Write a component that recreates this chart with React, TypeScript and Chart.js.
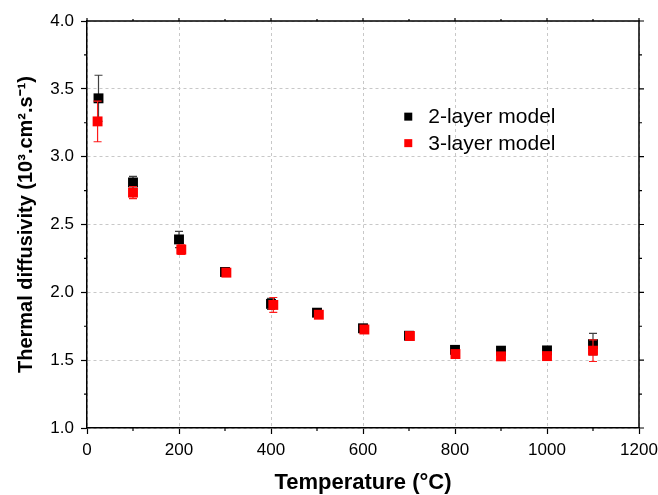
import { useEffect, useRef } from 'react';
import { Chart, registerables } from 'chart.js';

Chart.register(...registerables);

const FONT = "'Liberation Sans', Arial, Helvetica, sans-serif";

// Temperatures (°C)
const twoLayerTemps = [25, 100, 200, 300, 400, 500, 600, 700, 800, 900, 1000, 1100];
const threeLayerTemps = [23, 100, 205, 303, 405, 504, 603, 702, 801, 900, 1000, 1100];

// Thermal diffusivity values and errors
const twoLayerValues = [3.43, 2.81, 2.39, 2.15, 1.915, 1.85, 1.735, 1.68, 1.576, 1.57, 1.572, 1.618];
const twoLayerErrors = [0.17, 0.045, 0.06, 0.015, 0.04, 0.02, 0.02, 0.015, 0.015, 0.01, 0.01, 0.08];
const threeLayerValues = [3.26, 2.735, 2.315, 2.145, 1.907, 1.835, 1.726, 1.678, 1.545, 1.528, 1.53, 1.57];
const threeLayerErrors = [0.15, 0.045, 0.035, 0.015, 0.055, 0.02, 0.02, 0.02, 0.02, 0.015, 0.015, 0.08];

const seriesLabels = ['2-layer model', '3-layer model'];
const xTitle = 'Temperature (°C)';
const yTitle = 'Thermal diffusivity (10³.cm².s⁻¹)';

const errorBarPlugin = {
  id: 'errorBars',
  beforeDatasetDraw(chart: any, args: any) {
    const ds: any = chart.data.datasets[args.index];
    const errs: number[] = ds.errors || [];
    const yScale = chart.scales.y;
    const ctx = chart.ctx;
    ctx.save();
    ctx.strokeStyle = ds.errorColor;
    ctx.lineWidth = 1.2;
    args.meta.data.forEach((pt: any, i: number) => {
      const v = ds.data[i].y;
      const e = errs[i] || 0;
      const x = pt.x;
      const yTop = yScale.getPixelForValue(v + e);
      const yBot = yScale.getPixelForValue(v - e);
      ctx.beginPath();
      ctx.moveTo(x, yTop);
      ctx.lineTo(x, yBot);
      ctx.moveTo(x - 4, yTop);
      ctx.lineTo(x + 4, yTop);
      ctx.moveTo(x - 4, yBot);
      ctx.lineTo(x + 4, yBot);
      ctx.stroke();
    });
    ctx.restore();
  },
};

const framePlugin = {
  id: 'frame',
  afterDatasetsDraw(chart: any) {
    const { ctx, chartArea: a, scales } = chart;
    const xs = scales.x;
    const ys = scales.y;
    ctx.save();
    ctx.strokeStyle = '#000';
    ctx.lineWidth = 1.5;
    ctx.beginPath();
    ctx.moveTo(a.left, a.top);
    ctx.lineTo(a.right, a.top);
    ctx.lineTo(a.right, a.bottom);
    ctx.stroke();
    ctx.lineWidth = 1.2;
    ctx.beginPath();
    for (let v = 0; v <= 1200; v += 100) {
      const px = xs.getPixelForValue(v);
      const major = v % 200 === 0;
      if (!major) {
        ctx.moveTo(px, a.bottom);
        ctx.lineTo(px, a.bottom + 3);
      }
      ctx.moveTo(px, a.top);
      ctx.lineTo(px, a.top - (major ? 3 : 2));
    }
    for (let v = 1; v <= 4.0001; v += 0.25) {
      const py = ys.getPixelForValue(v);
      const major = Math.abs(v * 2 - Math.round(v * 2)) < 1e-6;
      if (!major) {
        ctx.moveTo(a.left, py);
        ctx.lineTo(a.left - 3, py);
      }
      ctx.moveTo(a.right, py);
      ctx.lineTo(a.right + (major ? 5 : 3), py);
    }
    ctx.stroke();
    ctx.restore();
  },
  afterDraw(chart: any) {
    const { ctx, chartArea: a } = chart;
    const datasets = chart.data.datasets;
    const order = [1, 0];
    const cx = a.left + 0.582 * (a.right - a.left);
    let cy = a.top + 0.235 * (a.bottom - a.top);
    ctx.save();
    ctx.font = `21px ${FONT}`;
    ctx.textBaseline = 'middle';
    ctx.textAlign = 'left';
    order.forEach((idx) => {
      const ds = datasets[idx];
      ctx.fillStyle = ds.backgroundColor;
      ctx.fillRect(cx - 4, cy - 4, 8, 8);
      ctx.fillStyle = '#000';
      ctx.fillText(ds.label, cx + 20, cy + 1);
      cy += 26.5;
    });
    ctx.restore();
  },
};

export default function App() {
  const ref = useRef<HTMLCanvasElement>(null);
  useEffect(() => {
    const chart = new Chart(ref.current!, {
      type: 'scatter',
      data: {
        datasets: [
          {
            label: seriesLabels[1],
            data: threeLayerTemps.map((t, i) => ({ x: t, y: threeLayerValues[i] })),
            errors: threeLayerErrors,
            errorColor: '#ff1a1a',
            backgroundColor: '#ff0000',
            borderColor: '#ff0000',
            borderWidth: 0,
            pointStyle: 'rect',
            pointRadius: 7,
            pointHoverRadius: 7,
            order: 0,
          } as any,
          {
            label: seriesLabels[0],
            data: twoLayerTemps.map((t, i) => ({ x: t, y: twoLayerValues[i] })),
            errors: twoLayerErrors,
            errorColor: '#404040',
            backgroundColor: '#000000',
            borderColor: '#000000',
            borderWidth: 0,
            pointStyle: 'rect',
            pointRadius: 7,
            pointHoverRadius: 7,
            order: 1,
          } as any,
        ],
      },
      options: {
        responsive: false,
        animation: false,
        events: [],
        layout: { padding: { top: 21, right: 19, left: 0, bottom: 0 } },
        plugins: {
          legend: { display: false },
          tooltip: { enabled: false },
        },
        scales: {
          x: {
            type: 'linear',
            min: 0,
            max: 1200,
            ticks: {
              stepSize: 200,
              color: '#000',
              font: { family: FONT, size: 17 },
              padding: 6,
              maxRotation: 0,
              callback: (v: any) => String(v),
            },
            grid: {
              color: '#c8c8c8',
              lineWidth: 1,
              tickColor: '#000',
              tickLength: 6,
              tickWidth: 1.2,
            },
            border: { display: true, color: '#000', width: 1.5, dash: [3, 3] },
            title: {
              display: true,
              text: xTitle,
              color: '#000',
              font: { family: FONT, size: 22, weight: 'bold' },
              padding: { top: 0, bottom: -1 },
            },
            afterFit: (s: any) => {
              s.height = 67;
              s.paddingLeft = 0;
              s.paddingRight = 0;
            },
          },
          y: {
            type: 'linear',
            min: 1,
            max: 4,
            ticks: {
              stepSize: 0.5,
              color: '#000',
              font: { family: FONT, size: 17 },
              padding: 7,
              callback: (v: any) => Number(v).toFixed(1),
            },
            grid: {
              color: '#c8c8c8',
              lineWidth: 1,
              tickColor: '#000',
              tickLength: 6,
              tickWidth: 1.2,
            },
            border: { display: true, color: '#000', width: 1.5, dash: [3, 3] },
            title: {
              display: true,
              text: yTitle,
              color: '#000',
              font: { family: FONT, size: 20, weight: 'bold' },
              padding: { top: 14, bottom: 0 },
            },
            afterFit: (s: any) => {
              s.width = 87;
              s.paddingTop = 0;
              s.paddingBottom = 0;
            },
          },
        },
      } as any,
      plugins: [errorBarPlugin, framePlugin],
    });
    return () => chart.destroy();
  }, []);
  return (
    <div style={{ position: 'fixed', left: 0, top: 0, width: 658, height: 495, background: '#fff' }}>
      <canvas ref={ref} width={658} height={495} style={{ width: 658, height: 495 }} />
    </div>
  );
}
